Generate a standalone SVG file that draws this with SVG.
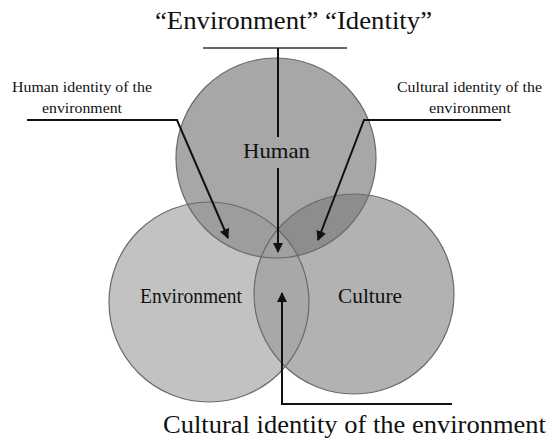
<svg xmlns="http://www.w3.org/2000/svg" width="549" height="441" viewBox="0 0 549 441">
<style>
.t{font-family:"Liberation Serif","Times New Roman",serif;fill:#111}
.ring{fill:none;stroke:#6a6a6a;stroke-width:1.2}
.ln{fill:none;stroke:#111;stroke-width:2}
.top{fill:none;stroke:#333;stroke-width:1.5}
</style>
<defs>
<clipPath id="cH"><circle cx="276" cy="158" r="100"/></clipPath>
<clipPath id="cE"><circle cx="209" cy="302" r="100"/></clipPath>
<marker id="ah" viewBox="0 0 10 10" refX="9" refY="5" markerWidth="5" markerHeight="5" orient="auto" markerUnits="strokeWidth">
<path d="M0,0 L10,5 L0,10 z" fill="#111"/>
</marker>
</defs>
<rect width="549" height="441" fill="#fff"/>
<g id="node-environment">
<circle cx="209" cy="302" r="100" fill="#c2c2c2"/>
</g>
<g id="node-culture">
<circle cx="354" cy="294" r="100" fill="#b2b2b2"/>
</g>
<g id="node-human">
<circle cx="276" cy="158" r="100" fill="#a7a7a7"/>
</g>
<g id="overlaps">
<g clip-path="url(#cH)">
<circle cx="209" cy="302" r="100" fill="#9d9d9d"/>
<circle cx="354" cy="294" r="100" fill="#8d8d8d"/>
</g>
<g clip-path="url(#cE)">
<circle cx="354" cy="294" r="100" fill="#a8a8a8"/>
<g clip-path="url(#cH)"><circle cx="354" cy="294" r="100" fill="#a0a0a0"/></g>
</g>
<circle class="ring" cx="209" cy="302" r="100"/>
<circle class="ring" cx="354" cy="294" r="100"/>
<circle class="ring" cx="276" cy="158" r="100"/>
</g>
<g id="node-labels">
<text class="t" x="243" y="158" font-size="22" textLength="67" lengthAdjust="spacingAndGlyphs">Human</text>
<text class="t" x="140" y="303" font-size="20" textLength="102" lengthAdjust="spacingAndGlyphs">Environment</text>
<text class="t" x="338" y="303" font-size="21" textLength="64" lengthAdjust="spacingAndGlyphs">Culture</text>
</g>
<g id="connectors">
<line class="top" x1="203" y1="48" x2="347" y2="48"/>
<line class="ln" x1="278" y1="48" x2="278" y2="137"/>
<line class="ln" x1="278" y1="168" x2="278" y2="252" marker-end="url(#ah)"/>
<polyline class="ln" points="27,120 177,120 228,238" marker-end="url(#ah)"/>
<polyline class="ln" points="501,120 364,120 318,240" marker-end="url(#ah)"/>
<polyline class="ln" points="452,404 282,404 282,293" marker-end="url(#ah)"/>
</g>
<g id="annotations">
<text class="t" x="155" y="29" font-size="26" textLength="277" lengthAdjust="spacingAndGlyphs">“Environment” “Identity”</text>
<text class="t" x="12" y="92" font-size="15" textLength="140" lengthAdjust="spacingAndGlyphs">Human identity of the</text>
<text class="t" x="42" y="113" font-size="15" textLength="80" lengthAdjust="spacingAndGlyphs">environment</text>
<text class="t" x="397" y="92" font-size="15" textLength="145" lengthAdjust="spacingAndGlyphs">Cultural identity of the</text>
<text class="t" x="429" y="113" font-size="15" textLength="82" lengthAdjust="spacingAndGlyphs">environment</text>
<text class="t" x="163" y="433" font-size="26" textLength="383" lengthAdjust="spacingAndGlyphs">Cultural identity of the environment</text>
</g>
</svg>
